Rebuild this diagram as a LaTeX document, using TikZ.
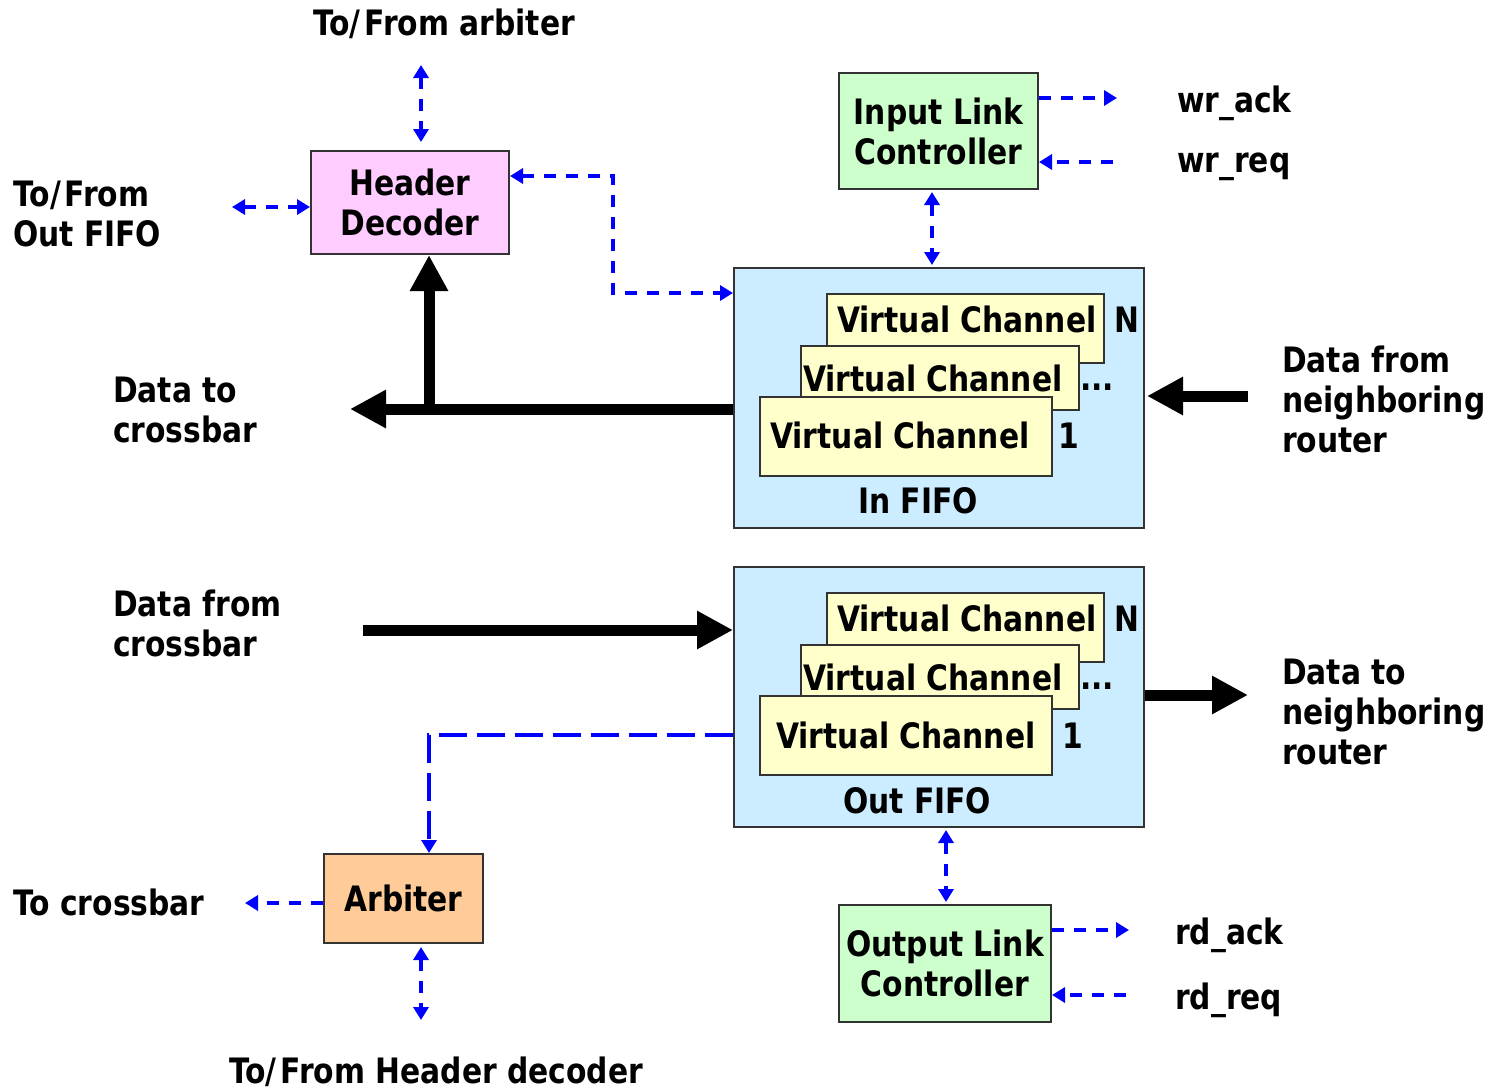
\documentclass[tikz,border=0pt]{standalone}
\usepackage{fontspec}
\setmainfont{DejaVu Sans}[FakeStretch=0.85]
\usetikzlibrary{arrows.meta,calc}

\definecolor{hdpink}{HTML}{FFCCFF}
\definecolor{lcgreen}{HTML}{CCFFCC}
\definecolor{fifoblue}{HTML}{CCECFF}
\definecolor{vcyellow}{HTML}{FFFFCC}
\definecolor{arborange}{HTML}{FFCC99}
\definecolor{sigblue}{HTML}{0000FF}
\definecolor{edgegray}{HTML}{333333}

\newcommand\diagfont{\fontsize{35}{40}\selectfont\bfseries}
\newcommand\slashgap{/\kern4pt}

\tikzset{
  box/.style={draw=edgegray, line width=2pt, inner sep=0pt, anchor=north west,
              align=center, font=\diagfont},
  vcbox/.style={draw=edgegray, line width=2pt, fill=vcyellow, inner sep=0pt,
                anchor=north west},
  txt/.style={inner sep=0pt, font=\diagfont, anchor=base west},
  mtxt/.style={inner sep=0pt, font=\diagfont, anchor=north west, align=left},
  sig/.style={draw=sigblue, line width=3.5pt, dash pattern=on 12pt off 10pt,
              -{Triangle[length=13pt,width=15pt]}},
  sigboth/.style={sig, {Triangle[length=13pt,width=15pt]}-{Triangle[length=13pt,width=15pt]}},
  bus/.style={line width=11pt, -{Triangle[length=36pt,width=36pt]}},
}

\begin{document}
\begin{tikzpicture}[x=1pt,y=-1pt]
\useasboundingbox (0,0) rectangle (1485,1090);

% ---------- blocks ----------
\node[box, fill=hdpink, minimum width=198pt, minimum height=103pt] (hdec) at (310,150) {Header\\Decoder};
\node[box, fill=lcgreen, minimum width=199pt, minimum height=116pt] (ilc) at (838,72) {Input Link\\Controller};
\node[box, fill=arborange, minimum width=159pt, minimum height=89pt] (arb) at (323,853) {Arbiter};
\node[box, fill=lcgreen, minimum width=212pt, minimum height=117pt] (olc) at (838,904) {Output Link\\Controller};

% ---------- input FIFO with its virtual channels ----------
\node[box, fill=fifoblue, minimum width=410pt, minimum height=260pt] (infifo) at (733,267) {};
\node[vcbox, minimum width=277pt, minimum height=69pt] (inN) at (826,293) {};
\node[vcbox, minimum width=278pt, minimum height=64pt] (inM) at (800,345) {};
\node[vcbox, minimum width=292pt, minimum height=79pt] (inA) at (759,396) {};
\node[txt] (inNt) at (837,332) {Virtual Channel};
\node[txt] (inMt) at (803,391) {Virtual Channel};
\node[txt] (inAt) at (770,448) {Virtual Channel};
\node[txt] (inNl) at (1114,332) {N};
\node[txt] (inMl) at (1080,390) {...};
\node[txt] (inAl) at (1058,448) {1};
\node[txt] (inlab) at (858,513) {In FIFO};

% ---------- output FIFO with its virtual channels ----------
\node[box, fill=fifoblue, minimum width=410pt, minimum height=260pt] (outfifo) at (733,566) {};
\node[vcbox, minimum width=277pt, minimum height=69pt] (outN) at (826,592) {};
\node[vcbox, minimum width=278pt, minimum height=64pt] (outM) at (800,644) {};
\node[vcbox, minimum width=292pt, minimum height=79pt] (outA) at (759,695) {};
\node[txt] (outNt) at (837,631) {Virtual Channel};
\node[txt] (outMt) at (803,690) {Virtual Channel};
\node[txt] (outAt) at (776,748) {Virtual Channel};
\node[txt] (outNl) at (1114,631) {N};
\node[txt] (outMl) at (1080,689) {...};
\node[txt] (outAl) at (1062,748) {1};
\node[txt] (outlab) at (843,813) {Out FIFO};

% ---------- outside labels ----------
\node[txt, anchor=base] (arbiterlab) at (444,35) {To\slashgap From arbiter};
\node[mtxt] (ofifolab) at (13,181) {To\slashgap From\\Out FIFO};
\node[mtxt] (dtclab) at (113,377) {Data to\\crossbar};
\node[mtxt] (dfnlab) at (1282,346) {Data from\\neighboring\\router};
\node[mtxt] (dfclab) at (113,590) {Data from\\crossbar};
\node[mtxt] (dtnlab) at (1282,659) {Data to\\neighboring\\router};
\node[txt] (tcblab) at (13,915) {To crossbar};
\node[txt, anchor=base] (hdlab) at (436,1083) {To\slashgap From Header decoder};
\node[txt] (wracklab) at (1177,112) {wr\_ack};
\node[txt] (wrreqlab) at (1177,172) {wr\_req};
\node[txt] (rdacklab) at (1175,944) {rd\_ack};
\node[txt] (rdreqlab) at (1175,1009) {rd\_req};

% ---------- free ends of the connectors ----------
\coordinate (arbport) at (421,65);
\coordinate (ofport) at (232,207);
\coordinate (bend) at (613,0);
\coordinate (wrack) at (1117,98);
\coordinate (wrreq) at (1113,162);
\coordinate (dtc) at (350,409);
\coordinate (branch) at (429,409);
\coordinate (dfn) at (1248,396);
\coordinate (dfc) at (363,630);
\coordinate (dtn) at (1248,695);
\coordinate (tcb) at (245,903);
\coordinate (hdport) at (421,1020);
\coordinate (rdack) at (1129,930);
\coordinate (rdreq) at (1126,995);

% ---------- control signals ----------
\draw[sigboth, shorten >=8pt] (arbport) -- (arbport |- hdec.north);
\draw[sigboth] (ofport) -- (ofport -| hdec.west);
\coordinate (hdecport) at ($(hdec.north east)+(0,26)$);
\coordinate (infport) at ($(infifo.north west)+(0,26)$);
\draw[sigboth] (hdecport) -| (bend |- infport) -- (infport);
\draw[sigboth, shorten <=2pt, shorten >=2pt] ($(ilc.south west)+(94,0)$) -- ($(infifo.north west)+(199,0)$);
\draw[sig] (wrack -| ilc.east) -- (wrack);
\draw[sig] (wrreq) -- (wrreq -| ilc.east);
\draw[sig, dash pattern=on 28pt off 10pt] ($(outfifo.north west)+(0,169)$) -| ($(arb.north west)+(106,0)$);
\draw[sig] (tcb -| arb.west) -- (tcb);
\draw[sigboth, shorten <=3pt] (hdport |- arb.south) -- (hdport);
\draw[sigboth, shorten <=2pt, shorten >=2pt] ($(outfifo.south west)+(213,0)$) -- ($(olc.north west)+(108,0)$);
\draw[sig] (rdack -| olc.east) -- (rdack);
\draw[sig] (rdreq) -- (rdreq -| olc.east);

% ---------- data paths ----------
\draw[bus] (dtc -| infifo.west) -- (dtc);
\draw[bus] (branch) -- (branch |- hdec.south);
\draw[bus, shorten >=2pt] (dfn) -- (dfn -| infifo.east);
\draw[bus] (dfc) -- (dfc -| outfifo.west);
\draw[bus] (dtn -| outfifo.east) -- (dtn);
\end{tikzpicture}
\end{document}
